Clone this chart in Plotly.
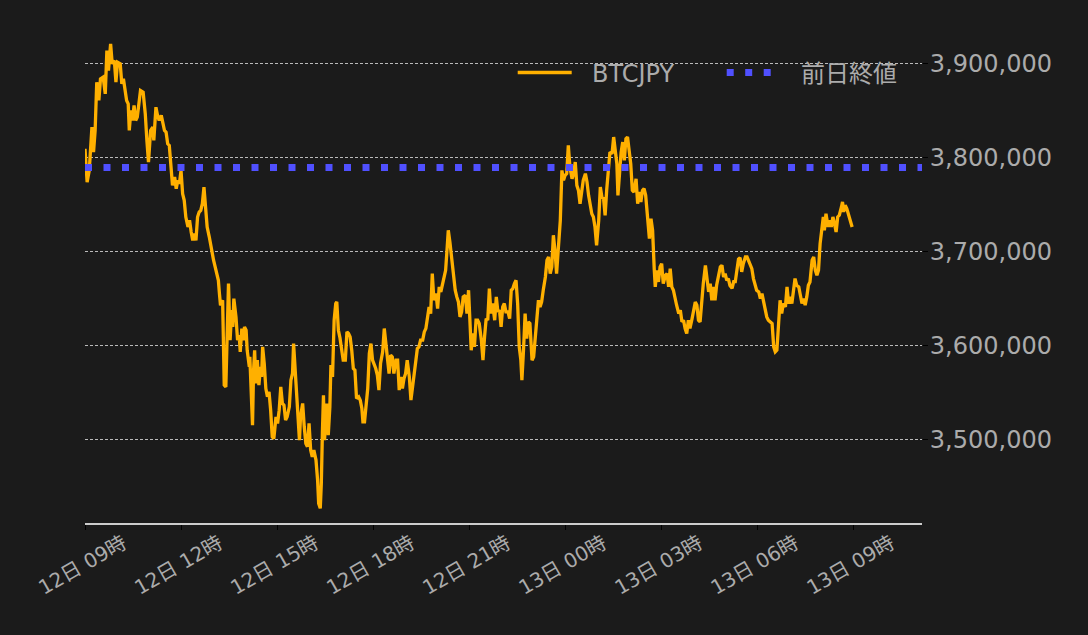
import pandas as pd
import plotly.graph_objects as go

# 12日 09時 からの経過分
minutes = [
    0, 4, 8, 13, 16, 19, 22, 26, 29, 34,
    38, 41, 44, 48, 51, 55, 58, 61, 66, 69,
    72, 75, 78, 81, 83, 86, 89, 92, 95, 98,
    101, 104, 109, 113, 116, 119, 123, 127, 129, 133,
    136, 139, 143, 146, 149, 152, 155, 158, 161, 164,
    168, 171, 174, 177, 180, 183, 186, 189, 193, 196,
    199, 202, 205, 208, 211, 214, 217, 220, 223, 226,
    229, 233, 236, 241, 244, 247, 250, 252, 254, 258,
    259, 261, 264, 267, 269, 272, 275, 277, 279, 283,
    286, 289, 291, 294, 297, 299, 302, 304, 308, 309,
    311, 314, 316, 318, 320, 323, 326, 329, 331, 333,
    336, 339, 342, 345, 348, 351, 354, 358, 361, 364,
    367, 370, 373, 376, 379, 383, 386, 389, 391, 394,
    397, 400, 402, 404, 408, 411, 414, 417, 420, 423,
    426, 429, 433, 436, 438, 441, 443, 445, 447, 449,
    451, 453, 456, 459, 461, 464, 467, 470, 472, 475,
    478, 481, 484, 488, 491, 494, 497, 500, 503, 506,
    509, 513, 516, 519, 521, 524, 527, 530, 533, 536,
    539, 542, 545, 548, 551, 554, 558, 561, 564, 567,
    570, 573, 576, 579, 583, 586, 589, 592, 595, 598,
    601, 604, 608, 611, 614, 617, 620, 623, 626, 629,
    633, 636, 639, 642, 645, 648, 651, 654, 658, 661,
    664, 667, 670, 673, 676, 679, 681, 684, 688, 691,
    694, 697, 700, 703, 706, 709, 713, 716, 719, 724,
    727, 730, 733, 736, 739, 743, 746, 749, 752, 755,
    758, 761, 764, 768, 771, 774, 777, 780, 783, 786,
    789, 793, 796, 799, 802, 805, 808, 811, 814, 817,
    819, 822, 825, 828, 831, 834, 838, 841, 844, 847,
    850, 853, 856, 859, 863, 866, 869, 872, 875, 878,
    881, 884, 888, 891, 894, 897, 900, 903, 906, 909,
    913, 916, 919, 922, 925, 928, 931, 934, 938, 941,
    944, 947, 950, 953, 956, 959, 963, 966, 969, 972,
    975, 978, 981, 984, 988, 991, 994, 997, 999, 1002,
    1005, 1008, 1011, 1014, 1017, 1020, 1023, 1026, 1029, 1033,
    1036, 1039, 1042, 1045, 1048, 1051, 1054, 1058, 1061, 1064,
    1067, 1069, 1072, 1075, 1078, 1081, 1084, 1088, 1091, 1094,
    1097, 1100, 1103, 1106, 1109, 1113, 1116, 1119, 1122, 1125,
    1128, 1131, 1134, 1138, 1141, 1144, 1147, 1150, 1153, 1156,
    1159, 1163, 1166, 1169, 1172, 1175, 1178, 1181, 1184, 1188,
    1191, 1194, 1197, 1200, 1203, 1206, 1209, 1213, 1216, 1219,
    1222, 1225, 1228, 1231, 1234, 1238, 1241, 1244, 1247, 1250,
    1253, 1256, 1259, 1263, 1266, 1269, 1272, 1275, 1278, 1281,
    1284, 1288, 1291, 1294, 1297, 1300, 1303, 1306, 1309, 1313,
    1316, 1319, 1322, 1325, 1328, 1331, 1334, 1338, 1341, 1344,
    1347, 1350, 1353, 1356, 1359, 1363, 1366, 1369, 1372, 1375,
    1378, 1381, 1384, 1386, 1389, 1393, 1396, 1399, 1402, 1405,
    1408, 1411, 1414, 1418, 1420, 1422, 1425, 1428, 1431, 1434,
    1438,
]

# BTCJPY 価格
prices = [
    3809500, 3774000, 3786500, 3832600, 3806000, 3829000, 3880400, 3861000, 3884000, 3885800,
    3868000, 3914100, 3892800, 3921200, 3900000, 3903500, 3880400, 3901700, 3900000, 3878700,
    3884000, 3869800, 3861000, 3857400, 3829000, 3850300, 3839700, 3855600, 3839700, 3843200,
    3859200, 3871600, 3869800, 3846800, 3818400, 3795300, 3829000, 3832600, 3818400, 3853800,
    3845000, 3839700, 3845000, 3837900, 3829000, 3827200, 3814800, 3813100, 3793600, 3770500,
    3779400, 3767000, 3775800, 3772300, 3786500, 3761600, 3754600, 3736800, 3726200, 3733300,
    3720900, 3712000, 3719100, 3712000, 3736800, 3742100, 3743900, 3751000, 3768700, 3749200,
    3726200, 3715500, 3704900, 3690800, 3683700, 3674800, 3669500, 3655300, 3642900, 3648200,
    3612800, 3557800, 3556000, 3630500, 3665900, 3605700, 3637600, 3619800, 3650000, 3630500,
    3605700, 3611000, 3593200, 3618100, 3605700, 3619800, 3616300, 3595000, 3577300, 3587900,
    3552500, 3515200, 3573700, 3595000, 3559600, 3584400, 3557800, 3577300, 3566600, 3598600,
    3580800, 3554200, 3545400, 3550700, 3531200, 3502800, 3501000, 3524100, 3517000, 3531200,
    3556000, 3538300, 3536500, 3520600, 3524100, 3534700, 3563100, 3570200, 3602100, 3577300,
    3548900, 3524100, 3499300, 3524100, 3538300, 3513500, 3495700, 3492200, 3517000, 3488600,
    3481500, 3488600, 3478000, 3456700, 3431900, 3426600, 3453200, 3506400, 3547100, 3499300,
    3524100, 3538300, 3504600, 3534700, 3579100, 3566600, 3626900, 3644700, 3646400, 3616300,
    3608000, 3598600, 3584400, 3584400, 3614500, 3612800, 3609200, 3595000, 3575500, 3573700,
    3543600, 3545400, 3541800, 3533000, 3518800, 3518800, 3541800, 3554200, 3591500, 3602100,
    3584400, 3580800, 3575500, 3568400, 3552500, 3580800, 3593200, 3618100, 3602100, 3587900,
    3570200, 3589700, 3587900, 3570200, 3584400, 3584400, 3552500, 3566600, 3554200, 3564900,
    3570200, 3584400, 3566600, 3541800, 3556000, 3573700, 3580800, 3596800, 3598600, 3605700,
    3605700, 3614500, 3618100, 3628700, 3641100, 3634000, 3676600, 3648200, 3655300, 3639400,
    3662400, 3657100, 3666000, 3673000, 3680100, 3705000, 3722700, 3710300, 3690800, 3669500,
    3658900, 3651800, 3646400, 3630500, 3635800, 3651800, 3653500, 3634000, 3658900, 3595000,
    3612800, 3598600, 3627000, 3627000, 3623400, 3605700, 3584400, 3609200, 3628700, 3627000,
    3660600, 3634000, 3644700, 3627000, 3651800, 3635800, 3637600, 3619800, 3641100, 3644700,
    3635800, 3635800, 3628700, 3658900, 3660600, 3665900, 3669500, 3644700, 3598600, 3584400,
    3563100, 3595000, 3634000, 3607400, 3625200, 3623400, 3584400, 3587900, 3605700, 3627000,
    3648200, 3641100, 3646400, 3658900, 3673000, 3690800, 3694300, 3676600, 3683700, 3717400,
    3701400, 3676600, 3704900, 3733300, 3786500, 3775900, 3781200, 3783000, 3813100, 3790100,
    3777600, 3783000, 3795400, 3770600, 3765200, 3751000, 3763500, 3775900, 3783000, 3774100,
    3759900, 3749300, 3740400, 3736900, 3726200, 3706700, 3733300, 3768800, 3758000, 3757000,
    3738600, 3766000, 3785000, 3806000, 3804200, 3822000, 3807800, 3793600, 3759900, 3786500,
    3806000, 3816600, 3797100, 3820200, 3822000, 3807800, 3793600, 3765200, 3763500, 3777600,
    3751000, 3763500, 3752800, 3765200, 3767000, 3759900, 3740400, 3713800, 3735100, 3722700,
    3681900, 3662400, 3680100, 3667700, 3683700, 3687200, 3666000, 3674800, 3676600, 3662400,
    3681900, 3662400, 3658900, 3650000, 3642900, 3634000, 3637600, 3625200, 3626900, 3618100,
    3612800, 3626900, 3618100, 3628700, 3637600, 3646400, 3642900, 3626900, 3625200, 3648200,
    3666000, 3685400, 3673000, 3657100, 3666000, 3648200, 3662400, 3648200, 3664200, 3678400,
    3683700, 3685400, 3673000, 3676600, 3669500, 3671300, 3664000, 3661000, 3668000, 3668000,
    3683000, 3692000, 3693500, 3678400, 3687200, 3694300, 3694300, 3690800, 3685500, 3681900,
    3671300, 3666000, 3658900, 3657100, 3650000, 3655300, 3646500, 3641100, 3630500, 3627000,
    3625200, 3623400, 3598600, 3593300, 3595100, 3627000, 3648200, 3634100, 3644700, 3641100,
    3662400, 3644700, 3651800, 3644700, 3662400, 3671300, 3664200, 3662400, 3653600, 3644700,
    3650000, 3643000, 3651800, 3664200, 3667700, 3690800, 3694300, 3680200, 3674800, 3680200,
    3708500, 3726300, 3736900, 3722700, 3740400, 3726300, 3733300, 3726300, 3736900, 3729800,
    3720900, 3736900, 3738700, 3747500, 3752900, 3742200, 3749300, 3745800, 3740400, 3735100,
    3726300,
]
assert len(minutes) == len(prices)

prev_close = 3789500  # 前日終値
start = pd.Timestamp("2021-01-12 09:00")
x_end = start + pd.Timedelta(minutes=1569)

times = start + pd.to_timedelta(minutes, unit="m")

font = "DejaVu Sans, Noto Sans CJK JP"
gray = "#ababab"
bg = "#1b1b1b"
pad = "\u00a0\u00a0"  # 凡例の線と文字の間隔

fig = go.Figure()
fig.add_trace(go.Scatter(
    x=times, y=prices, mode="lines", name=pad + "BTCJPY",
    line=dict(color="#ffb000", width=3.3),
))
fig.add_trace(go.Scatter(
    x=[start, x_end], y=[prev_close, prev_close], mode="lines", name=pad + "前日終値",
    line=dict(color="#5050ff", width=7, dash="7px,11.5px"),
))

fig.update_layout(
    width=1088, height=635,
    paper_bgcolor=bg, plot_bgcolor=bg,
    margin=dict(l=85, r=166, t=30, b=112),
    font=dict(family=font, color=gray),
    showlegend=True,
    legend=dict(
        orientation="h", x=0.511, xanchor="left", y=0.913, yanchor="middle",
        font=dict(size=24, color=gray), bgcolor="rgba(0,0,0,0)",
        itemwidth=54, entrywidth=140,
    ),
)
fig.update_xaxes(
    range=[start, x_end],
    tick0=start, dtick=3 * 3600 * 1000, tickformat="%d日 %H時",
    tickangle=-30, tickfont=dict(size=20, color=gray),
    ticklabelshift=38, ticklabelstandoff=-6,
    showgrid=False, zeroline=False,
    showline=True, linecolor="#cccccc", linewidth=2,
    ticks="outside", tickcolor="#000000", ticklen=5,
)
fig.update_yaxes(
    range=[3411000, 3936000], side="right",
    tickformat=",", dtick=100000, tickfont=dict(size=24, color=gray),
    ticklabelstandoff=-3,
    showgrid=True, gridcolor="#bbbbbb", gridwidth=1, griddash="3px,2px",
    zeroline=False, ticks="outside", tickcolor="#000000", ticklen=5,
)

fig.write_html(
    "out.html",
    config={"displayModeBar": False},
    post_script="document.body.style.margin='0';document.body.style.overflow='hidden';"
                "document.body.style.background='" + bg + "';",
)
